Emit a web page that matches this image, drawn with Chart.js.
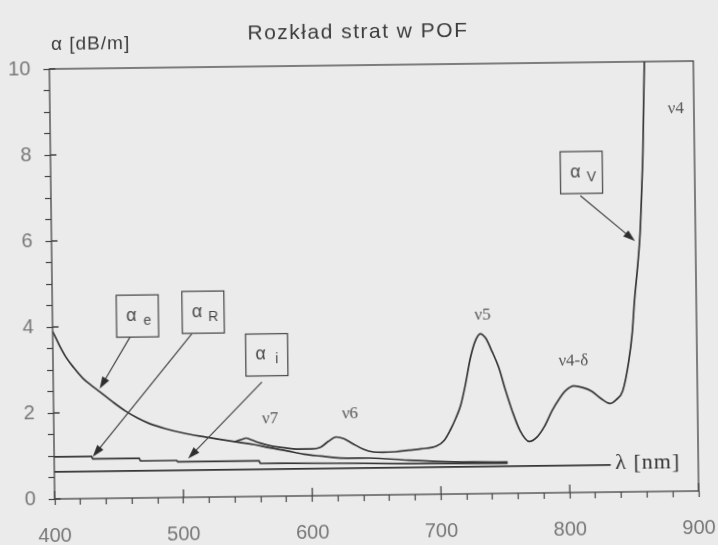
<!DOCTYPE html>
<html>
<head>
<meta charset="utf-8">
<script src="https://cdn.jsdelivr.net/npm/chart.js@4.4.1/dist/chart.umd.min.js"></script>
<style>
  html, body { margin: 0; padding: 0; background: #ebebeb; overflow: hidden; }
  #wrap { width: 718px; height: 545px; }
  /* the scanned page is slightly tilted */
  #lossChart { transform: rotate(-0.71deg); transform-origin: 374px 280px; }
</style>
</head>
<body>
<div id="wrap"><canvas id="lossChart" width="718" height="545"></canvas></div>
<script>
// wavelength [nm] / attenuation [dB/m]
// electronic absorption (alpha e)
const lambdaE = [400, 405, 410, 416, 423, 430, 436, 446, 456, 465, 474, 487, 500, 513, 526, 540, 555, 567, 581, 594, 607, 622, 645, 675, 700, 725, 752];
const alphaE  = [3.9, 3.58, 3.3, 3.05, 2.8, 2.62, 2.48, 2.24, 2.02, 1.86, 1.73, 1.6, 1.5, 1.42, 1.35, 1.28, 1.21, 1.13, 1.05, 0.97, 0.92, 0.87, 0.86, 0.8, 0.76, 0.74, 0.73];

// Rayleigh scattering (alpha R)
const lambdaR = [400, 429, 430, 466, 467, 495, 496, 559, 560, 620, 680, 752];
const alphaR  = [0.98, 0.98, 0.92, 0.92, 0.86, 0.86, 0.83, 0.83, 0.77, 0.75, 0.72, 0.7];

// imperfections (alpha i)
const lambdaI = [400, 832];
const alphaI  = [0.63, 0.63];

// total loss incl. vibrational overtones (alpha v)
const lambdaTotal = [540, 546, 549, 553, 560, 570, 580, 588, 600, 607, 613, 619, 625, 632, 640, 648, 655, 665, 675, 685, 697,
                     703, 708, 712, 716, 720, 724, 728, 732, 736, 741, 746, 751, 756, 762, 769, 775, 781, 787, 793, 798, 804,
                     811, 818, 825, 832, 837, 842, 847, 850, 852, 855, 857, 859, 860, 861, 862];
const alphaTotal  = [1.28, 1.33, 1.36, 1.32, 1.24, 1.16, 1.12, 1.09, 1.09, 1.13, 1.26, 1.36, 1.32, 1.2, 1.07, 1.0, 0.99, 1.0, 1.03, 1.06, 1.12,
                     1.25, 1.5, 1.75, 2.05, 2.55, 3.15, 3.55, 3.72, 3.62, 3.3, 2.93, 2.4, 1.92, 1.45, 1.2, 1.3, 1.55, 1.91, 2.2, 2.38, 2.48,
                     2.44, 2.35, 2.18, 2.06, 2.15, 2.35, 3.04, 3.7, 4.44, 5.3, 6.0, 7.2, 7.9, 9.0, 10];

const xLabels = [400, 500, 600, 700, 800, 900];
const yLabels = [0, 2, 4, 6, 8, 10];

// annotation boxes, arrows and peak names, given in data units
const boxes = [
  { sym: 'α', sub: 'e', x: 466, y: 4.23, fromX: 460, fromY: 3.74, toX: 436, toY: 2.55 },
  { sym: 'α', sub: 'R', x: 517, y: 4.3,  fromX: 508, fromY: 3.8,  toX: 430, toY: 0.97 },
  { sym: 'α', sub: 'i', x: 566, y: 3.29, fromX: 562, fromY: 2.66, toX: 504, toY: 0.9 },
  { sym: 'α', sub: 'V', x: 812, y: 7.44, fromX: 811, fromY: 6.9,  toX: 853, toY: 5.83 }
];
const peakNames = ['ν7', 'ν6', 'ν5', 'ν4-δ', 'ν4'];
const peakX = [568, 630, 734, 804, 886];
const peakY = [1.8, 1.89, 4.16, 3.06, 8.9];

const pts = (xs, ys) => xs.map((x, i) => ({ x: x, y: ys[i] }));

const ink = '#363636';
const paper = '#ebebeb';

function arrow(ctx, x1, y1, x2, y2) {
  const ang = Math.atan2(y2 - y1, x2 - x1);
  const len = 12, half = 4;
  ctx.beginPath();
  ctx.moveTo(x1, y1);
  ctx.lineTo(x2 - Math.cos(ang) * len * 0.6, y2 - Math.sin(ang) * len * 0.6);
  ctx.stroke();
  ctx.beginPath();
  ctx.moveTo(x2, y2);
  ctx.lineTo(x2 - Math.cos(ang) * len - Math.sin(ang) * half, y2 - Math.sin(ang) * len + Math.cos(ang) * half);
  ctx.lineTo(x2 - Math.cos(ang) * len + Math.sin(ang) * half, y2 - Math.sin(ang) * len - Math.cos(ang) * half);
  ctx.closePath();
  ctx.fill();
}

const paperPlugin = {
  id: 'paper',
  beforeDraw(chart) {
    const ctx = chart.ctx;
    ctx.save();
    ctx.fillStyle = paper;
    ctx.fillRect(0, 0, chart.width, chart.height);
    ctx.restore();
  },
  afterDraw(chart) {
    const { ctx, chartArea: a, scales } = chart;
    const xs = scales.x, ys = scales.y;
    ctx.save();
    ctx.strokeStyle = '#444';
    ctx.fillStyle = ink;
    ctx.lineWidth = 1.3;

    // frame
    ctx.strokeRect(a.left, a.top, a.right - a.left, a.bottom - a.top);

    // inner halves of the major ticks
    ctx.beginPath();
    yLabels.forEach(v => {
      const py = ys.getPixelForValue(v);
      ctx.moveTo(a.left, py);
      ctx.lineTo(a.left + 6, py);
    });
    xLabels.forEach(v => {
      const px = xs.getPixelForValue(v);
      ctx.moveTo(px, a.bottom);
      ctx.lineTo(px, a.bottom - 8);
    });
    ctx.stroke();

    // titles
    ctx.fillStyle = '#3c3c3c';
    ctx.textBaseline = 'middle';
    ctx.textAlign = 'center';
    ctx.letterSpacing = '1.5px';
    ctx.font = '21px "Liberation Sans"';
    ctx.fillText('Rozkład strat w POF', 361, 32);
    ctx.textAlign = 'left';
    ctx.letterSpacing = '1px';
    ctx.font = '19px "Liberation Sans"';
    ctx.fillText('α [dB/m]', 54, 41);
    ctx.letterSpacing = '0px';

    // boxes with arrows
    ctx.lineWidth = 1.2;
    boxes.forEach(b => {
      const cx = xs.getPixelForValue(b.x), cy = ys.getPixelForValue(b.y);
      ctx.strokeRect(cx - 21, cy - 21, 42, 42);
      ctx.fillStyle = '#4a4a4a';
      ctx.textAlign = 'center';
      ctx.font = '18px "Liberation Sans"';
      ctx.fillText(b.sym, cx - 6, cy);
      ctx.font = '14px "Liberation Sans"';
      ctx.fillText(b.sub, cx + 10, cy + 5);
      ctx.fillStyle = '#2e2e2e';
      arrow(ctx, xs.getPixelForValue(b.fromX), ys.getPixelForValue(b.fromY),
                 xs.getPixelForValue(b.toX), ys.getPixelForValue(b.toY));
    });

    // vibration overtone names
    ctx.fillStyle = '#555';
    ctx.textAlign = 'center';
    ctx.font = '17px "Liberation Serif"';
    peakNames.forEach((t, i) => {
      ctx.fillText(t, xs.getPixelForValue(peakX[i]), ys.getPixelForValue(peakY[i]));
    });

    // wavelength label at the end of the base lines
    ctx.fillStyle = '#333';
    ctx.textAlign = 'left';
    ctx.letterSpacing = '1px';
    ctx.font = '22px "Liberation Serif"';
    ctx.fillText('λ [nm]', xs.getPixelForValue(835.6), ys.getPixelForValue(0.66));
    ctx.restore();
  }
};

const lineStyle = {
  borderColor: ink,
  borderWidth: 1.7,
  pointRadius: 0,
  fill: false
};

const tickFont = { family: '"Liberation Sans Narrow", "Liberation Sans"', size: 20 };

const ctx = document.getElementById('lossChart').getContext('2d');

const lossChart = new Chart(ctx, {
  type: 'line',
  data: {
    datasets: [
      { ...lineStyle, label: 'αe', data: pts(lambdaE, alphaE), cubicInterpolationMode: 'monotone' },
      { ...lineStyle, label: 'αR', data: pts(lambdaR, alphaR), tension: 0 },
      { ...lineStyle, label: 'αi', data: pts(lambdaI, alphaI), tension: 0 },
      { ...lineStyle, label: 'α', data: pts(lambdaTotal, alphaTotal), cubicInterpolationMode: 'monotone' }
    ]
  },
  options: {
    responsive: false,
    animation: false,
    devicePixelRatio: 1,
    layout: { padding: { top: 65, right: 22, left: 0, bottom: 0 } },
    plugins: {
      legend: { display: false },
      title: { display: false },
      tooltip: { enabled: false }
    },
    scales: {
      x: {
        type: 'linear',
        min: 400,
        max: 900,
        afterFit: (scale) => {
          scale.height = 50;
          scale.paddingLeft = 0;
          scale.paddingRight = 0;
        },
        border: { display: false },
        grid: { drawOnChartArea: false, tickLength: 6, color: '#444', tickWidth: 1.2 },
        ticks: {
          stepSize: 20,
          autoSkip: false,
          maxRotation: 0,
          padding: 19,
          color: '#777',
          font: tickFont,
          callback: (v) => (xLabels.includes(v) ? v : '')
        }
      },
      y: {
        min: 0,
        max: 10,
        afterFit: (scale) => {
          scale.width = 52;
          scale.paddingTop = 0;
          scale.paddingBottom = 0;
        },
        border: { display: false },
        grid: { drawOnChartArea: false, tickLength: 6, color: '#444', tickWidth: 1.2 },
        ticks: {
          stepSize: 0.5,
          autoSkip: false,
          padding: 13,
          color: '#777',
          font: tickFont,
          callback: (v) => (yLabels.includes(v) ? v : '')
        }
      }
    }
  },
  plugins: [paperPlugin]
});
</script>
</body>
</html>
